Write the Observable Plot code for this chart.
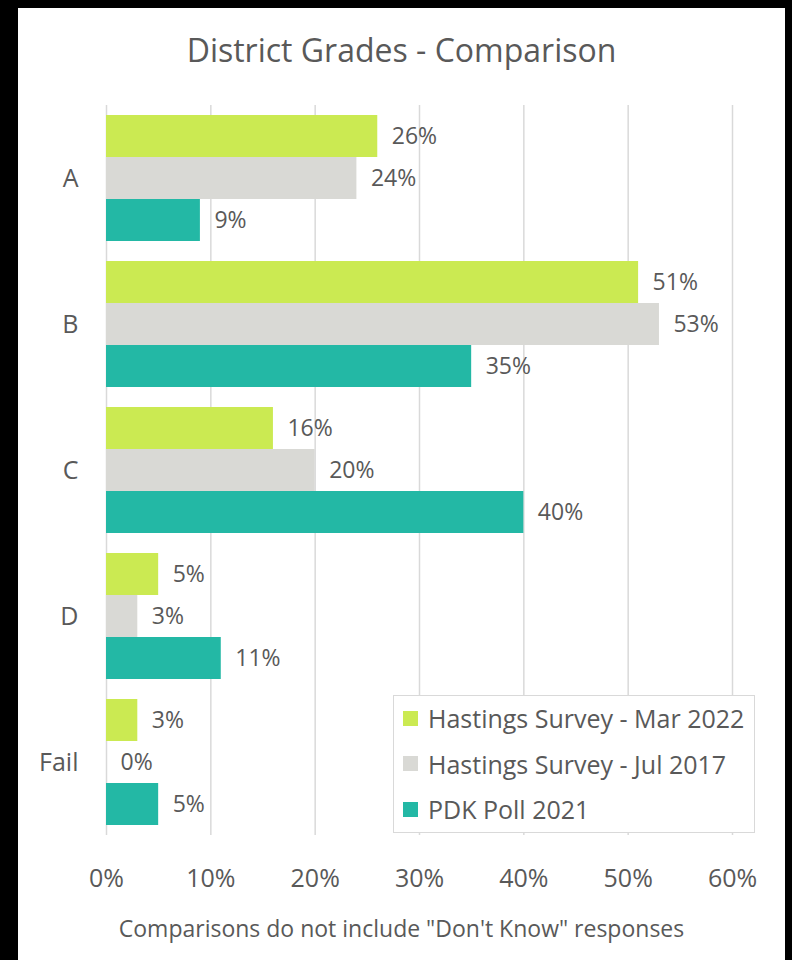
<!DOCTYPE html>
<html>
<head>
<meta charset="utf-8">
<script src="https://cdn.jsdelivr.net/npm/d3@7"></script>
<script src="https://cdn.jsdelivr.net/npm/@observablehq/plot@0.6"></script>
<style>
  html, body { margin: 0; padding: 0; background: #000; }
  #page { position: relative; width: 792px; height: 960px; background: #000; overflow: hidden; font-family: "Open Sans", sans-serif; color: #595959; }
  #panel { position: absolute; left: 18px; top: 8px; width: 767px; height: 952px; background: #fff; }
  #title { position: absolute; left: 18px; width: 767px; top: 30px; text-align: center; font-size: 32px; line-height: 40px; color: #595959; }
  #chart { position: absolute; left: 0; top: 90px; }
  #caption { position: absolute; left: 18px; width: 767px; top: 913px; text-align: center; font-size: 23px; line-height: 30px; color: #595959; }
  #legend { position: absolute; left: 393px; top: 695px; width: 362px; height: 138px; background: #fff; border: 1px solid #d9d9d9; box-sizing: border-box; }
  .item { position: absolute; left: 9px; height: 30px; display: flex; align-items: center; font-size: 25px; color: #595959; white-space: nowrap; }
  .sw { width: 15px; height: 15px; margin-right: 10px; }
</style>
</head>
<body>
<div id="page">
  <div id="panel"></div>
  <div id="title">District Grades - Comparison</div>
  <div id="chart"></div>
  <div id="legend"></div>
  <div id="caption">Comparisons do not include "Don't Know" responses</div>
</div>
<script>
const grades = ["A", "B", "C", "D", "Fail"];
const series = ["Hastings Survey - Mar 2022", "Hastings Survey - Jul 2017", "PDK Poll 2021"];
const mar2022 = [26, 51, 16, 5, 3];
const jul2017 = [24, 53, 20, 3, 0];
const pdk2021 = [9, 35, 40, 11, 5];
const colors = ["#cbea52", "#d9d9d5", "#23b8a5"];
const xTicks = [0, 10, 20, 30, 40, 50, 60];

const valuesBySeries = [mar2022, jul2017, pdk2021];
const data = [];
grades.forEach((g, i) => {
  series.forEach((s, j) => {
    data.push({grade: g, series: s, value: valuesBySeries[j][i]});
  });
});

const chart = Plot.plot({
  width: 792,
  height: 815,
  marginLeft: 106,
  marginRight: 60,
  marginTop: 14,
  marginBottom: 68,
  style: {fontFamily: "Open Sans, sans-serif", fontSize: "25px", color: "#595959", background: "transparent"},
  x: {domain: [0, 60], ticks: xTicks, tickFormat: d => d + "%", tickSize: 0, tickPadding: 43, label: null},
  y: {domain: series, padding: 0, axis: null},
  fy: {domain: grades, paddingInner: 0.12, paddingOuter: 0.06, axis: "left", tickSize: 0, tickPadding: 28, label: null},
  color: {domain: series, range: colors},
  marks: [
    Plot.ruleX(xTicks, {stroke: "#d9d9d9", strokeWidth: 1.5, insetTop: -9, insetBottom: -9}),
    Plot.barX(data, {x: "value", y: "series", fy: "grade", fill: "series"}),
    Plot.text(data, {x: "value", y: "series", fy: "grade", text: d => d.value + "%", dx: 14, textAnchor: "start", fill: "#595959", fontSize: 23})
  ]
});
document.getElementById("chart").appendChild(chart);

const legend = document.getElementById("legend");
series.forEach((s, j) => {
  const item = document.createElement("div");
  item.className = "item";
  item.style.top = (7 + j * 45.5) + "px";
  const sw = document.createElement("div");
  sw.className = "sw";
  sw.style.background = colors[j];
  const t = document.createElement("span");
  t.textContent = s;
  item.appendChild(sw);
  item.appendChild(t);
  legend.appendChild(item);
});
</script>
</body>
</html>
